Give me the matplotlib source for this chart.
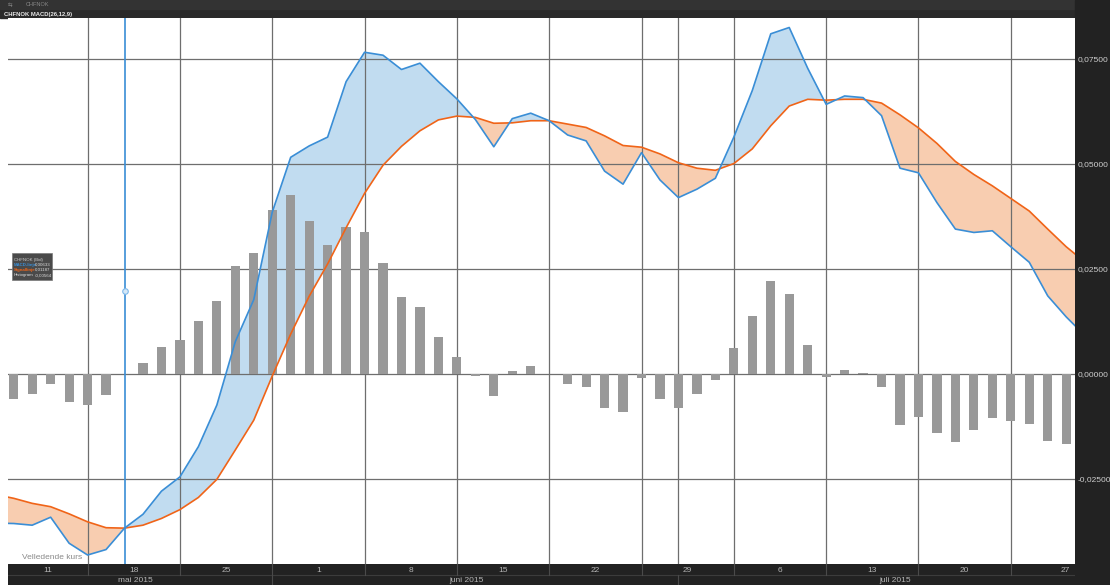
import numpy as np
import pandas as pd
import matplotlib

matplotlib.use("Agg")
import matplotlib.pyplot as plt
from matplotlib.patches import Rectangle

# CHFNOK MACD(26,12,9), daily, business days from 11 May 2015
start_date = "2015-05-11"
macd_line = [-0.0355, -0.0356, -0.0360, -0.0341, -0.0403, -0.0431, -0.0418, -0.0367, -0.0334, -0.0279,
             -0.0245, -0.0173, -0.0074, 0.0077, 0.0177, 0.0385, 0.0516, 0.0543, 0.0564, 0.0696,
             0.0766, 0.0759, 0.0725, 0.0740, 0.0696, 0.0655, 0.0606, 0.0541, 0.0608, 0.0621,
             0.0603, 0.0569, 0.0555, 0.0483, 0.0452, 0.0527, 0.0462, 0.0420, 0.0440, 0.0466,
             0.0564, 0.0675, 0.0810, 0.0825, 0.0728, 0.0642, 0.0662, 0.0658, 0.0615, 0.0490,
             0.0479, 0.0408, 0.0345, 0.0337, 0.0341, 0.0303, 0.0266, 0.0186, 0.0136, 0.0092]
signal_line = [-0.0287, -0.0296, -0.0308, -0.0316, -0.0333, -0.0352, -0.0366, -0.0367, -0.0360, -0.0344,
               -0.0323, -0.0294, -0.0251, -0.0181, -0.0110, -0.0005, 0.0095, 0.0185, 0.0262, 0.0348,
               0.0430, 0.0497, 0.0542, 0.0579, 0.0605, 0.0614, 0.0611, 0.0597, 0.0598, 0.0603,
               0.0603, 0.0595, 0.0587, 0.0567, 0.0544, 0.0540, 0.0524, 0.0503, 0.0490, 0.0485,
               0.0501, 0.0536, 0.0591, 0.0638, 0.0654, 0.0652, 0.0654, 0.0654, 0.0645, 0.0617,
               0.0586, 0.0549, 0.0506, 0.0475, 0.0448, 0.0418, 0.0388, 0.0345, 0.0303, 0.0267]
# histogram starts one day later (12 May)
histogram = [-0.0059, -0.0048, -0.0023, -0.0067, -0.0075, -0.0051, 0.0, 0.0025, 0.0064, 0.0081,
             0.0125, 0.0174, 0.0258, 0.0287, 0.0390, 0.0425, 0.0364, 0.0306, 0.0351, 0.0337,
             0.0264, 0.0184, 0.0160, 0.0089, 0.0040, -0.0005, -0.0052, 0.0008, 0.0018, 0.0,
             -0.0025, -0.0032, -0.0082, -0.0090, -0.0009, -0.0060, -0.0082, -0.0048, -0.0015, 0.0063,
             0.0139, 0.0221, 0.0191, 0.0068, -0.0006, 0.0009, 0.0002, -0.0031, -0.0121, -0.0103,
             -0.0140, -0.0161, -0.0134, -0.0104, -0.0112, -0.0120, -0.0159, -0.0167]
y_ticks = [-0.025, 0.0, 0.025, 0.05, 0.075]
month_names = {5: "mai", 6: "juni", 7: "juli"}
cursor_day = 6
cursor_value = 0.0198
legend_rows = [("CHFNOK (Bid)", ""), ("MACD-linje", "0,00633"),
               ("Signallinje", "0,01187"), ("Histogram", "-0,00564")]

W, H = 1110, 585
BLUE = "#3a8ed6"
ORANGE = "#f06418"
GRID = "#6e6e6e"
DARK = "#222222"
plt.rcParams["font.family"] = ["Liberation Sans", "DejaVu Sans"]


def px(x, y):
    # pixel position (from top-left) -> figure fraction
    return x / W, 1 - y / H


days = pd.bdate_range(start_date, periods=len(macd_line))
x_line = np.arange(len(macd_line)) - 1
x_bar = np.arange(len(histogram))
macd = np.array(macd_line)
sig = np.array(signal_line)

mondays = [x_line[k] for k, d in enumerate(days) if d.weekday() == 0]
month_starts = [x_line[k] for k, d in enumerate(days) if k > 0 and d.month != days[k - 1].month]
xmin, xmax = -0.31, 57.45

fig = plt.figure(figsize=(W / 100, H / 100), dpi=100)
fig.patch.set_facecolor("white")

# header and right scale panel (behind the axes so tick labels stay visible)
fig.patches.append(Rectangle(px(0, 18), 1, 18 / H, transform=fig.transFigure, color="#2a2a2a", zorder=-2))
fig.patches.append(Rectangle(px(0, 9), 1, 9 / H, transform=fig.transFigure, color="#333333", zorder=-1))
fig.patches.append(Rectangle(px(1074.5, H), (W - 1074.5) / W, 1, transform=fig.transFigure,
                             color=DARK, zorder=-1))

left, right, top, bottom = 8, 1074.5, 18, 564
ax = fig.add_axes([left / W, 1 - bottom / H, (right - left) / W, (bottom - top) / H])
ax.set_xlim(xmin, xmax)
ax.set_ylim(-0.04524, 0.08476)

ax.fill_between(x_line, macd, sig, where=macd >= sig, interpolate=True, color="#c1dcf0", lw=0, zorder=1)
ax.fill_between(x_line, macd, sig, where=macd <= sig, interpolate=True, color="#f8cdb0", lw=0, zorder=1)
for v in y_ticks:
    ax.axhline(v, color=GRID, lw=0.9, zorder=2)
for m in sorted(set(mondays) | set(month_starts)):
    ax.axvline(m, color=GRID, lw=0.9, zorder=2)
ax.bar(x_bar, histogram, width=0.5, color="#999999", zorder=3)
ax.plot(x_line, sig, color=ORANGE, lw=1.2, zorder=4)
ax.plot(x_line, macd, color=BLUE, lw=1.2, zorder=5)

ax.axvline(cursor_day, color=BLUE, lw=1.2, zorder=6)
ax.plot(cursor_day, cursor_value, "o", ms=4, mfc="#d4e8f8", mec="#7db8ea", mew=0.8, zorder=7)

for s in ax.spines.values():
    s.set_visible(False)
ax.set_xticks([])
ax.yaxis.tick_right()
ax.set_yticks(y_ticks)
ax.set_yticklabels([f"{v:.5f}".replace(".", ",") for v in y_ticks])
ax.tick_params(axis="y", length=0, pad=2, labelsize=6, labelcolor="#cfcfcf")

ax.text((22 - left) / (right - left), 0.0128, "Velledende kurs", transform=ax.transAxes,
        fontsize=6, color="#8a8a8a", va="center", ha="left", zorder=8)

fig.text(*px(8, 5), "\u21c6", fontsize=4, color="#888888", va="center", family="DejaVu Sans")
fig.text(*px(26, 5), "CHFNOK", fontsize=4, color="#888888", va="center")
fig.text(*px(4, 14.5), "CHFNOK MACD(26,12,9)", fontsize=4.2, color="#e8e8e8", va="center", weight="bold")

# info box
fig.patches.append(Rectangle(px(12, 280), 40 / W, 27 / H, transform=fig.transFigure,
                             facecolor="#4a4a4a", edgecolor="#7a7a7a", lw=0.5, zorder=5))
row_colors = ["#cccccc", BLUE, ORANGE, "#dddddd"]
for k, (name, val) in enumerate(legend_rows):
    yy = 259.5 + 5.2 * k
    fig.text(*px(14, yy), name, fontsize=3.2, color=row_colors[k], va="center", zorder=6,
             weight="bold" if k in (1, 2) else "normal")
    if val:
        fig.text(*px(35, yy), val, fontsize=3.2, color="#dddddd", va="center", zorder=6)

# date band under the chart
bax = fig.add_axes([left / W, 0, (right - left) / W, (H - bottom) / H])
bax.set_xlim(xmin, xmax)
bax.set_ylim(0, H - bottom)
bax.axis("off")
bax.add_patch(Rectangle((xmin, 0), xmax - xmin, H - bottom, color=DARK, zorder=0))
bax.axhline(10, color="#3c3c3c", lw=0.8)
for m in mondays:
    bax.plot([m, m], [10, 21], color="#4a4a4a", lw=0.8)
for m in month_starts:
    bax.plot([m, m], [0, 10], color="#4a4a4a", lw=0.8)
for k, d in enumerate(days):
    if d.weekday() == 0:
        m = x_line[k]
        if m < xmin:
            pos = (xmin + m + 5) / 2
        elif m + 5 > xmax:
            pos = xmax - 0.5
        else:
            pos = m + 2.5
        bax.text(pos, 15, str(d.day), fontsize=6, color="#b5b5b5", ha="center", va="center")
for mon, name in month_names.items():
    idx = [x_line[k] for k, d in enumerate(days) if d.month == mon]
    lo, hi = max(idx[0] - 0.5, xmin), idx[-1] + 0.5
    if mon == 7:
        hi += 1.5
    bax.text((lo + hi) / 2, 4, f"{name} 2015", fontsize=6, color="#b5b5b5", ha="center", va="center")

fig.savefig("out.png", dpi=100)
